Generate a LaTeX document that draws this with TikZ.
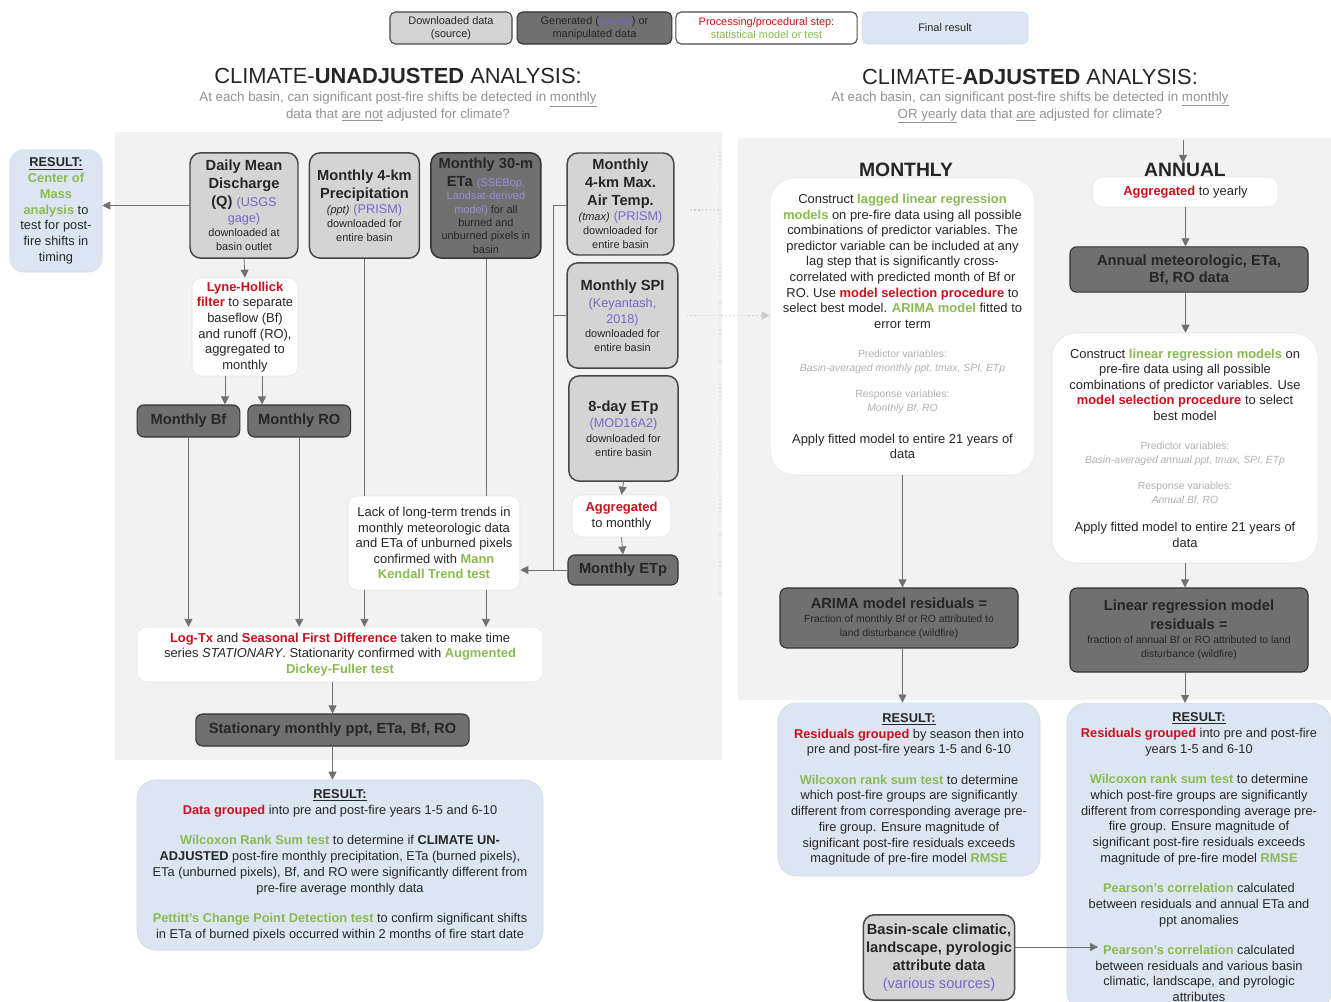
\documentclass[tikz,border=0pt]{standalone}
\usepackage{fontspec}
\setmainfont{Liberation Sans}
\usepackage{xcolor}
\usetikzlibrary{positioning, arrows.meta, calc}

\definecolor{srcgray}{RGB}{212,212,212}
\definecolor{gengray}{RGB}{112,112,112}
\definecolor{resblue}{RGB}{220,230,242}
\definecolor{procred}{RGB}{200,16,30}
\definecolor{testgreen}{RGB}{138,186,82}
\definecolor{srcpurple}{RGB}{118,104,200}
\definecolor{linegray}{RGB}{112,112,112}
\definecolor{panelgray}{RGB}{242,242,242}

\newcommand{\stp}[1]{\textcolor{procred}{\textbf{#1}}}
\newcommand{\tst}[1]{\textcolor{testgreen}{\textbf{#1}}}
\newcommand{\srcref}[1]{{\fontsize{9.5}{11}\selectfont\textcolor{srcpurple}{#1}}}
\newcommand{\smallfnt}{\fontsize{8.2}{10.3}\selectfont}
\newcommand{\darkfnt}{\fontsize{7.8}{10.2}\selectfont}
\newcommand{\notefnt}{\fontsize{7.8}{10.3}\selectfont\color{gray!60}}
\newcommand{\boldfnt}{\fontsize{11}{13}\selectfont\bfseries}

\begin{document}
\begin{tikzpicture}[
    x=0.75pt, y=-0.75pt,
    every node/.style={align=center, inner sep=2pt, text=black!85},
    srcbox/.style={draw=gray!55!black, line width=1.1pt, fill=srcgray, rounded corners=8pt, font=\fontsize{11}{13.5}\selectfont},
    genbox/.style={draw=gray!40!black, line width=0.8pt, fill=gengray, rounded corners=5pt, font=\boldfnt},
    procbox/.style={draw=gray!22, fill=white, rounded corners=#1, font=\fontsize{9.7}{11.7}\selectfont},
    procbox/.default=7pt,
    resbox/.style={draw=resblue!85!gray, fill=resblue, rounded corners=14pt, font=\fontsize{9.6}{11.8}\selectfont},
    legbox/.style={minimum width=#1, minimum height=24pt, font=\fontsize{8.2}{9.8}\selectfont},
    hdr/.style={font=\fontsize{14.5}{17}\selectfont\bfseries, inner sep=0pt},
    arrow/.style={-{Triangle[length=6pt, width=6pt]}, line width=0.6pt, draw=linegray},
    link/.style={line width=0.6pt, draw=linegray},
    dotlink/.style={dotted, line width=0.9pt, draw=gray!40},
  ]

  \useasboundingbox (0,0) rectangle (1331,1002);
  \fill[white] (0,0) rectangle (1331,1002);

  % ---- background panels ----
  \fill[panelgray] (115,132) rectangle (722,760);
  \fill[panelgray] (738,138) rectangle (1331,700);
  \draw[dotlink, draw=gray!25] (720,140) -- (720,600);

  % ---- legend ----
  \node[srcbox, legbox=91.5pt, line width=0.8pt, rounded corners=4pt] (legsrc) at (451,28) {Downloaded data\\(source)};
  \node[genbox, legbox=116pt, rounded corners=4pt] (leggen) at (594.5,28) {Generated (\textcolor{srcpurple}{source}) or\\manipulated data};
  \node[procbox=4pt, draw=gray!60!black, line width=0.8pt, legbox=136pt] (legproc) at (766.5,28) {\textcolor{procred}{Processing/procedural step:}\\\textcolor{testgreen}{statistical model or test}};
  \node[resbox, legbox=124.5pt, rounded corners=4pt] (legres) at (945,28) {Final result};

  % ---- titles ----
  \node[font=\fontsize{16.4}{19}\selectfont] (titleU) at (398,76) {CLIMATE-\textbf{UNADJUSTED} ANALYSIS:};
  \node[font=\fontsize{10}{12.75}\selectfont, text=gray!85] (subU) at (398,106.5) {At each basin, can significant post-fire shifts be detected in \underline{monthly}\\data that \underline{are not} adjusted for climate?};
  \node[font=\fontsize{16.4}{19}\selectfont] (titleA) at (1030,77) {CLIMATE-\textbf{ADJUSTED} ANALYSIS:};
  \node[font=\fontsize{10}{12.75}\selectfont, text=gray!85] (subA) at (1030,107.5) {At each basin, can significant post-fire shifts be detected in \underline{monthly}\\\underline{OR yearly} data that \underline{are} adjusted for climate?};

  % ---- unadjusted: source data ----
  \node[resbox, rounded corners=10pt, minimum width=69pt, minimum height=91.5pt] (cmres) at (56,211) {\underline{\textbf{RESULT:}}\\\tst{Center of}\\\tst{Mass}\\\tst{analysis} to\\test for post-\\fire shifts in\\timing};

  \node[srcbox, minimum width=81pt, minimum height=79pt] (qbox) at (244,205.5) {\textbf{Daily Mean}\\\textbf{Discharge}\\\textbf{(Q)} \srcref{(USGS}\\[-1.5pt]\srcref{gage)}\\[-3pt]{\smallfnt downloaded at}\\[-3pt]{\smallfnt basin outlet}};
  \node[srcbox, minimum width=82.5pt, minimum height=79pt, right=7.5pt of qbox] (precip) {\textbf{Monthly 4-km}\\\textbf{Precipitation}\\[-2pt]{\smallfnt\itshape (ppt)} \srcref{(PRISM)}\\[-3pt]{\smallfnt downloaded for}\\[-3pt]{\smallfnt entire basin}};
  \node[genbox, font=\fontsize{11}{13.5}\selectfont, rounded corners=8pt, line width=1.1pt, minimum width=82.5pt, minimum height=79pt, right=7.5pt of precip] (eta) {\textbf{Monthly 30-m}\\\textbf{ETa} {\smallfnt\textcolor{srcpurple!75!white}{(SSEBop,}}\\[-3.5pt]{\smallfnt\textcolor{srcpurple!75!white}{Landsat-derived}}\\[-3.5pt]{\smallfnt\textcolor{srcpurple!75!white}{model)} for all}\\[-3.5pt]{\smallfnt burned and}\\[-3.5pt]{\smallfnt unburned pixels in}\\[-3.5pt]{\smallfnt basin}};

  \node[srcbox, minimum width=80pt, minimum height=76.5pt] (tmax) at (620.5,204) {\textbf{Monthly}\\\textbf{4-km Max.}\\\textbf{Air Temp.}\\[-2pt]{\smallfnt\itshape (tmax)} \srcref{(PRISM)}\\[-3pt]{\smallfnt downloaded for}\\[-3pt]{\smallfnt entire basin}};
  \node[srcbox, minimum width=83pt, minimum height=79pt] (spi) at (622.5,315.5) {\textbf{Monthly SPI}\\[-1pt]\srcref{(Keyantash,}\\[-1.5pt]\srcref{2018)}\\[-3pt]{\smallfnt downloaded for}\\[-3pt]{\smallfnt entire basin}};
  \node[srcbox, minimum width=82pt, minimum height=79pt] (etp) at (623.5,428.5) {\textbf{8-day ETp}\\[-1pt]\srcref{(MOD16A2)}\\[-2.5pt]{\smallfnt downloaded for}\\[-3pt]{\smallfnt entire basin}};
  \node[procbox, minimum width=74pt, minimum height=31.5pt] (aggm) at (621.5,516) {\stp{Aggregated}\\to monthly};
  \node[genbox, minimum width=82.5pt, minimum height=22.5pt] (metp) at (623,570) {Monthly ETp};

  % ---- unadjusted: processing ----
  \node[procbox, minimum width=79.5pt, minimum height=73.5pt] (lyne) at (245,327) {\stp{Lyne-Hollick}\\\stp{filter} to separate\\baseflow (Bf)\\and runoff (RO),\\aggregated to\\monthly};
  \node[genbox, minimum width=77pt, minimum height=24pt] (bf) at (188.5,421) {Monthly Bf};
  \node[genbox, minimum width=77pt, minimum height=24pt, right=5.25pt of bf] (ro) {Monthly RO};
  \node[procbox, minimum width=129pt, minimum height=70.5pt] (lack) at (434,543) {Lack of long-term trends in\\monthly meteorologic data\\and ETa of unburned pixels\\confirmed with \tst{Mann}\\\tst{Kendall Trend test}};
  \node[procbox, minimum width=304.5pt, minimum height=41pt] (logtx) at (340,654.5) {\stp{Log-Tx} and \stp{Seasonal First Difference} taken to make time\\series \textit{STATIONARY}. Stationarity confirmed with \tst{Augmented}\\\tst{Dickey-Fuller test}};
  \node[genbox, minimum width=205pt, minimum height=24pt] (statn) at (332.5,730) {Stationary monthly ppt, ETa, Bf, RO};
  \node[resbox, font=\fontsize{9.6}{12}\selectfont, minimum width=304.5pt, minimum height=127.5pt] (resU) at (340,865) {\underline{\textbf{RESULT:}}\\\stp{Data grouped} into pre and post-fire years 1-5 and 6-10\\[10.5pt]\tst{Wilcoxon Rank Sum test} to determine if \textbf{CLIMATE UN-}\\\textbf{ADJUSTED} post-fire monthly precipitation, ETa (burned pixels),\\ETa (unburned pixels), Bf, and RO were significantly different from\\pre-fire average monthly data\\[10.5pt]\tst{Pettitt's Change Point Detection test} to confirm significant shifts\\in ETa of burned pixels occurred within 2 months of fire start date};

  % ---- adjusted: monthly ----
  \node[procbox=18pt, minimum width=198.75pt, minimum height=222.75pt] (monthly) at (902.5,326.5) {Construct \tst{lagged linear regression}\\\tst{models} on pre-fire data using all possible\\combinations of predictor variables. The\\predictor variable can be included at any\\lag step that is significantly cross-\\correlated with predicted month of Bf or\\RO. Use \stp{model selection procedure} to\\select best model. \tst{ARIMA model} fitted to\\error term\\[10pt]{\notefnt Predictor variables:}\\[-1.2pt]{\notefnt\itshape Basin-averaged monthly ppt, tmax, SPI, ETp}\\[7.8pt]{\notefnt Response variables:}\\[-1.2pt]{\notefnt\itshape Monthly Bf, RO}\\[12.3pt]Apply fitted model to entire 21 years of\\data};
  \node[hdr] (monhead) at (906,170) {MONTHLY};
  \node[genbox, font=\darkfnt, minimum width=178.5pt, minimum height=45pt] (arima) at (899,618) {{\boldfnt ARIMA model residuals =}\\[0.5pt]Fraction of monthly Bf or RO attributed to\\land disturbance (wildfire)};
  \node[resbox, minimum width=196.5pt, minimum height=130pt] (resM) at (909,789.5) {\underline{\textbf{RESULT:}}\\\stp{Residuals grouped} by season then into\\pre and post-fire years 1-5 and 6-10\\[11pt]\tst{Wilcoxon rank sum test} to determine\\which post-fire groups are significantly\\different from corresponding average pre-\\fire group. Ensure magnitude of\\significant post-fire residuals exceeds\\magnitude of pre-fire model \tst{RMSE}};

  % ---- adjusted: annual ----
  \node[hdr] (annhead) at (1185,170) {ANNUAL};
  \node[procbox, minimum width=139pt, minimum height=22.5pt] (aggy) at (1185.5,192) {\stp{Aggregated} to yearly};
  \node[genbox, minimum width=178.5pt, minimum height=34pt] (anndata) at (1189,269.5) {Annual meteorologic, ETa,\\Bf, RO data};
  \node[procbox=18pt, minimum width=199.5pt, minimum height=172.5pt] (annmodel) at (1185,448) {Construct \tst{linear regression models} on\\pre-fire data using all possible\\combinations of predictor variables. Use\\\stp{model selection procedure} to select\\best model\\[10pt]{\notefnt Predictor variables:}\\[-1.2pt]{\notefnt\itshape Basin-averaged annual ppt, tmax, SPI, ETp}\\[7.8pt]{\notefnt Response variables:}\\[-1.2pt]{\notefnt\itshape Annual Bf, RO}\\[9.3pt]Apply fitted model to entire 21 years of\\data};
  \node[genbox, font=\darkfnt, minimum width=178.5pt, minimum height=63pt] (lr) at (1189,630) {{\boldfnt Linear regression model}\\[2.75pt]{\boldfnt residuals =}\\[0.5pt]fraction of annual Bf or RO attributed to land\\disturbance (wildfire)};
  \node[resbox, anchor=north, minimum width=198pt, minimum height=231pt] (resA) at (1199,703) {\underline{\textbf{RESULT:}}\\\stp{Residuals grouped} into pre and post-fire\\years 1-5 and 6-10\\[11pt]\tst{Wilcoxon rank sum test} to determine\\which post-fire groups are significantly\\different from corresponding average pre-\\fire group. Ensure magnitude of\\significant post-fire residuals exceeds\\magnitude of pre-fire model \tst{RMSE}\\[11pt]\tst{Pearson's correlation} calculated\\between residuals and annual ETa and\\ppt anomalies\\[11pt]\tst{Pearson's correlation} calculated\\between residuals and various basin\\climatic, landscape, and pyrologic\\attributes};
  \node[srcbox, minimum width=109.5pt, minimum height=64pt] (basin) at (939,957.5) {\textbf{Basin-scale climatic,}\\\textbf{landscape, pyrologic}\\\textbf{attribute data}\\\textcolor{srcpurple}{(various sources)}};

  % ---- connectors: unadjusted ----
  \draw[arrow] (qbox.west) -- (qbox.west -| cmres.east);
  \draw[arrow] (qbox.south) -- (lyne.north);
  \draw[arrow] ([xshift=-15pt]lyne.south) -- ([xshift=-15pt]lyne.south |- bf.north);
  \draw[arrow] ([xshift=12.75pt]lyne.south) -- ([xshift=12.75pt]lyne.south |- ro.north);
  \draw[arrow] (bf.south) -- (bf.south |- logtx.north);
  \draw[arrow] (ro.south) -- (ro.south |- logtx.north);
  \draw[link] (precip.south) -- (precip.south |- lack.north);
  \draw[arrow] (precip.south |- lack.south) -- (precip.south |- logtx.north);
  \draw[link] (eta.south) -- (eta.south |- lack.north);
  \draw[arrow] (eta.south |- lack.south) -- (eta.south |- logtx.north);
  \coordinate (trunk) at (553,570);
  \draw[link] ([yshift=-1pt]tmax.west) -| (trunk);
  \draw[link] (spi.west) -- (spi.west -| trunk);
  \draw[arrow] (metp.west) -- (metp.west -| lack.east);
  \draw[arrow] (etp.south) -- (aggm.north);
  \draw[arrow] (aggm.south) -- (metp.north);
  \draw[arrow] (statn.north |- logtx.south) -- (statn.north);
  \draw[arrow] (statn.south) -- (statn.south |- resU.north);

  % ---- dotted links across ----
  \coordinate (sep) at (720,210);
  \draw[dotlink] ([xshift=12pt]tmax.east |- sep) -- (sep);
  \draw[dotlink, -{Triangle[length=6pt, width=6pt]}] ([xshift=6pt]spi.east) -- (spi.east -| monthly.west);

  % ---- connectors: adjusted ----
  \draw[arrow] (monthly.south) -- (monthly.south |- arima.north);
  \draw[arrow] (monthly.south |- arima.south) -- (monthly.south |- resM.north);
  \coordinate (anntop) at (1183,140);
  \draw[arrow] (anntop) -- (anntop |- annhead.north);
  \draw[arrow] (aggy.south) -- (aggy.south |- anndata.north);
  \draw[arrow] (aggy.south |- anndata.south) -- (aggy.south |- annmodel.north);
  \draw[arrow] (annmodel.south) -- (annmodel.south |- lr.north);
  \draw[arrow] (annmodel.south |- lr.south) -- (annmodel.south |- resA.north);
  \coordinate (pearson) at (1098,947);
  \draw[arrow] (basin.east |- pearson) -- (pearson);

\end{tikzpicture}
\end{document}
